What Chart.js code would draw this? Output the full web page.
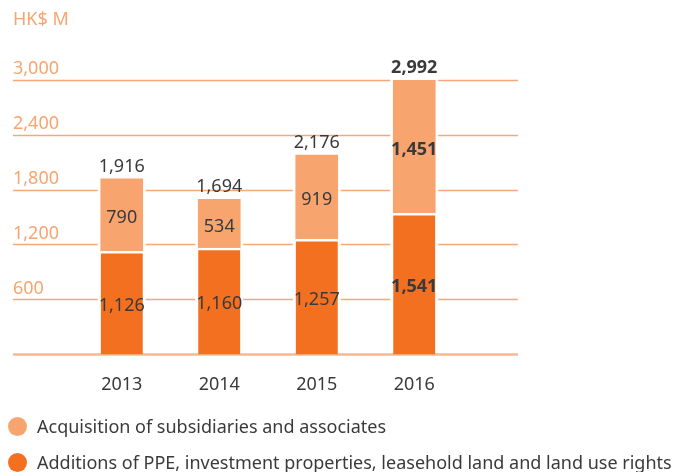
<!DOCTYPE html>
<html>
<head>
<meta charset="utf-8">
<script src="https://cdn.jsdelivr.net/npm/chart.js@4"></script>
<style>
  html, body { margin: 0; padding: 0; background: #fff; }
  #wrap { position: relative; width: 686px; height: 472px; overflow: hidden; font-family: "Noto Sans", sans-serif; }
  canvas { position: absolute; left: 0; top: 0; }
  .leg { position: absolute; left: 0; height: 24px; display: flex; align-items: center; font-size: 18px; color: #3a3a3a; white-space: nowrap; }
  .dot { width: 19px; height: 19px; border-radius: 50%; margin-left: 8px; margin-right: 10px; }
</style>
</head>
<body>
<div id="wrap">
  <canvas id="c" width="686" height="472"></canvas>
  <div class="leg" style="top:414px"><span class="dot" style="background:#F8A46F"></span>Acquisition of subsidiaries and associates</div>
  <div class="leg" style="top:450px"><span class="dot" style="background:#F37021"></span>Additions of PPE, investment properties, leasehold land and land use rights</div>
</div>
<script>
const years = ['2013', '2014', '2015', '2016'];
const additions = [1126, 1160, 1257, 1541];
const acquisitions = [790, 534, 919, 1451];
const totals = [1916, 1694, 2176, 2992];
const boldYears = ['2016'];

const LIGHT = '#F8A46F';
const DARK = '#F37021';
const TEXT = '#3a3a3a';
const FONT = '"Noto Sans", sans-serif';
const FS = 18;

const fmt = v => v.toLocaleString('en-US');

const gridPlugin = {
  id: 'gridPlugin',
  beforeDatasetsDraw(chart) {
    const ctx = chart.ctx;
    const y = chart.scales.y;
    const x0 = 13, x1 = 518;
    ctx.save();
    ctx.strokeStyle = '#F7A778';
    ctx.lineWidth = 1.5;
    y.ticks.forEach(t => {
      if (t.value === 0) return;
      const py = Math.round(y.getPixelForValue(t.value)) + 0.5;
      ctx.beginPath(); ctx.moveTo(x0, py); ctx.lineTo(x1, py); ctx.stroke();
    });
    const m0 = chart.getDatasetMeta(0), m1 = chart.getDatasetMeta(1);
    ctx.fillStyle = '#fff';
    m0.data.forEach((bar, i) => {
      const top = m1.data[i].y;
      const w = bar.width;
      ctx.fillRect(bar.x - w / 2 - 3, top - 3, w + 6, bar.base - top + 1);
    });
    const by = y.getPixelForValue(0);
    ctx.strokeStyle = '#F9B792';
    ctx.lineWidth = 2.5;
    ctx.beginPath(); ctx.moveTo(x0, by); ctx.lineTo(x1, by); ctx.stroke();
    ctx.restore();
  }
};

const labelPlugin = {
  id: 'labelPlugin',
  afterDatasetsDraw(chart) {
    const ctx = chart.ctx;
    const m0 = chart.getDatasetMeta(0), m1 = chart.getDatasetMeta(1);
    ctx.save();
    ctx.textAlign = 'center';
    ctx.textBaseline = 'middle';
    ctx.fillStyle = TEXT;
    years.forEach((yr, i) => {
      const bold = boldYears.includes(yr);
      ctx.font = (bold ? 'bold ' : '') + FS + 'px ' + FONT;
      const b0 = m0.data[i], b1 = m1.data[i];
      ctx.fillText(fmt(additions[i]), b0.x, (b0.y + b0.base) / 2 + 3);
      ctx.fillText(fmt(acquisitions[i]), b1.x, (b1.y + b1.base) / 2 + 3);
      ctx.fillText(fmt(totals[i]), b1.x, b1.y - 12);
    });
    ctx.restore();
  }
};

new Chart(document.getElementById('c'), {
  type: 'bar',
  data: {
    labels: years,
    datasets: [
      {
        label: 'Additions of PPE, investment properties, leasehold land and land use rights',
        data: additions,
        backgroundColor: DARK,
        borderColor: '#fff',
        borderWidth: { top: 2.5, left: 0, right: 0, bottom: 0 },
        borderSkipped: false,
        barThickness: 42
      },
      {
        label: 'Acquisition of subsidiaries and associates',
        data: acquisitions,
        backgroundColor: LIGHT,
        borderWidth: 0,
        barThickness: 42
      }
    ]
  },
  options: {
    responsive: false,
    animation: false,
    layout: { padding: { left: 13, right: 223, top: 0, bottom: 56 } },
    plugins: {
      legend: { display: false },
      tooltip: { enabled: false },
      title: {
        display: true,
        text: 'HK$ M',
        align: 'start',
        color: LIGHT,
        font: { family: FONT, size: FS, weight: 'normal' },
        padding: { top: 9, bottom: 49 }
      }
    },
    scales: {
      x: {
        stacked: true,
        grid: { display: false, drawTicks: false },
        border: { display: false },
        ticks: { color: TEXT, font: { family: FONT, size: FS }, padding: 20 }
      },
      y: {
        stacked: true,
        min: 0,
        max: 3000,
        grid: { display: false, drawTicks: false },
        border: { display: false },
        afterFit(scale) { scale.width = 60; },
        ticks: {
          stepSize: 600,
          crossAlign: 'far',
          labelOffset: -11,
          padding: 0,
          color: LIGHT,
          font: { family: FONT, size: FS },
          callback: v => v === 0 ? '' : fmt(v)
        }
      }
    }
  },
  plugins: [gridPlugin, labelPlugin]
});
</script>
</body>
</html>
